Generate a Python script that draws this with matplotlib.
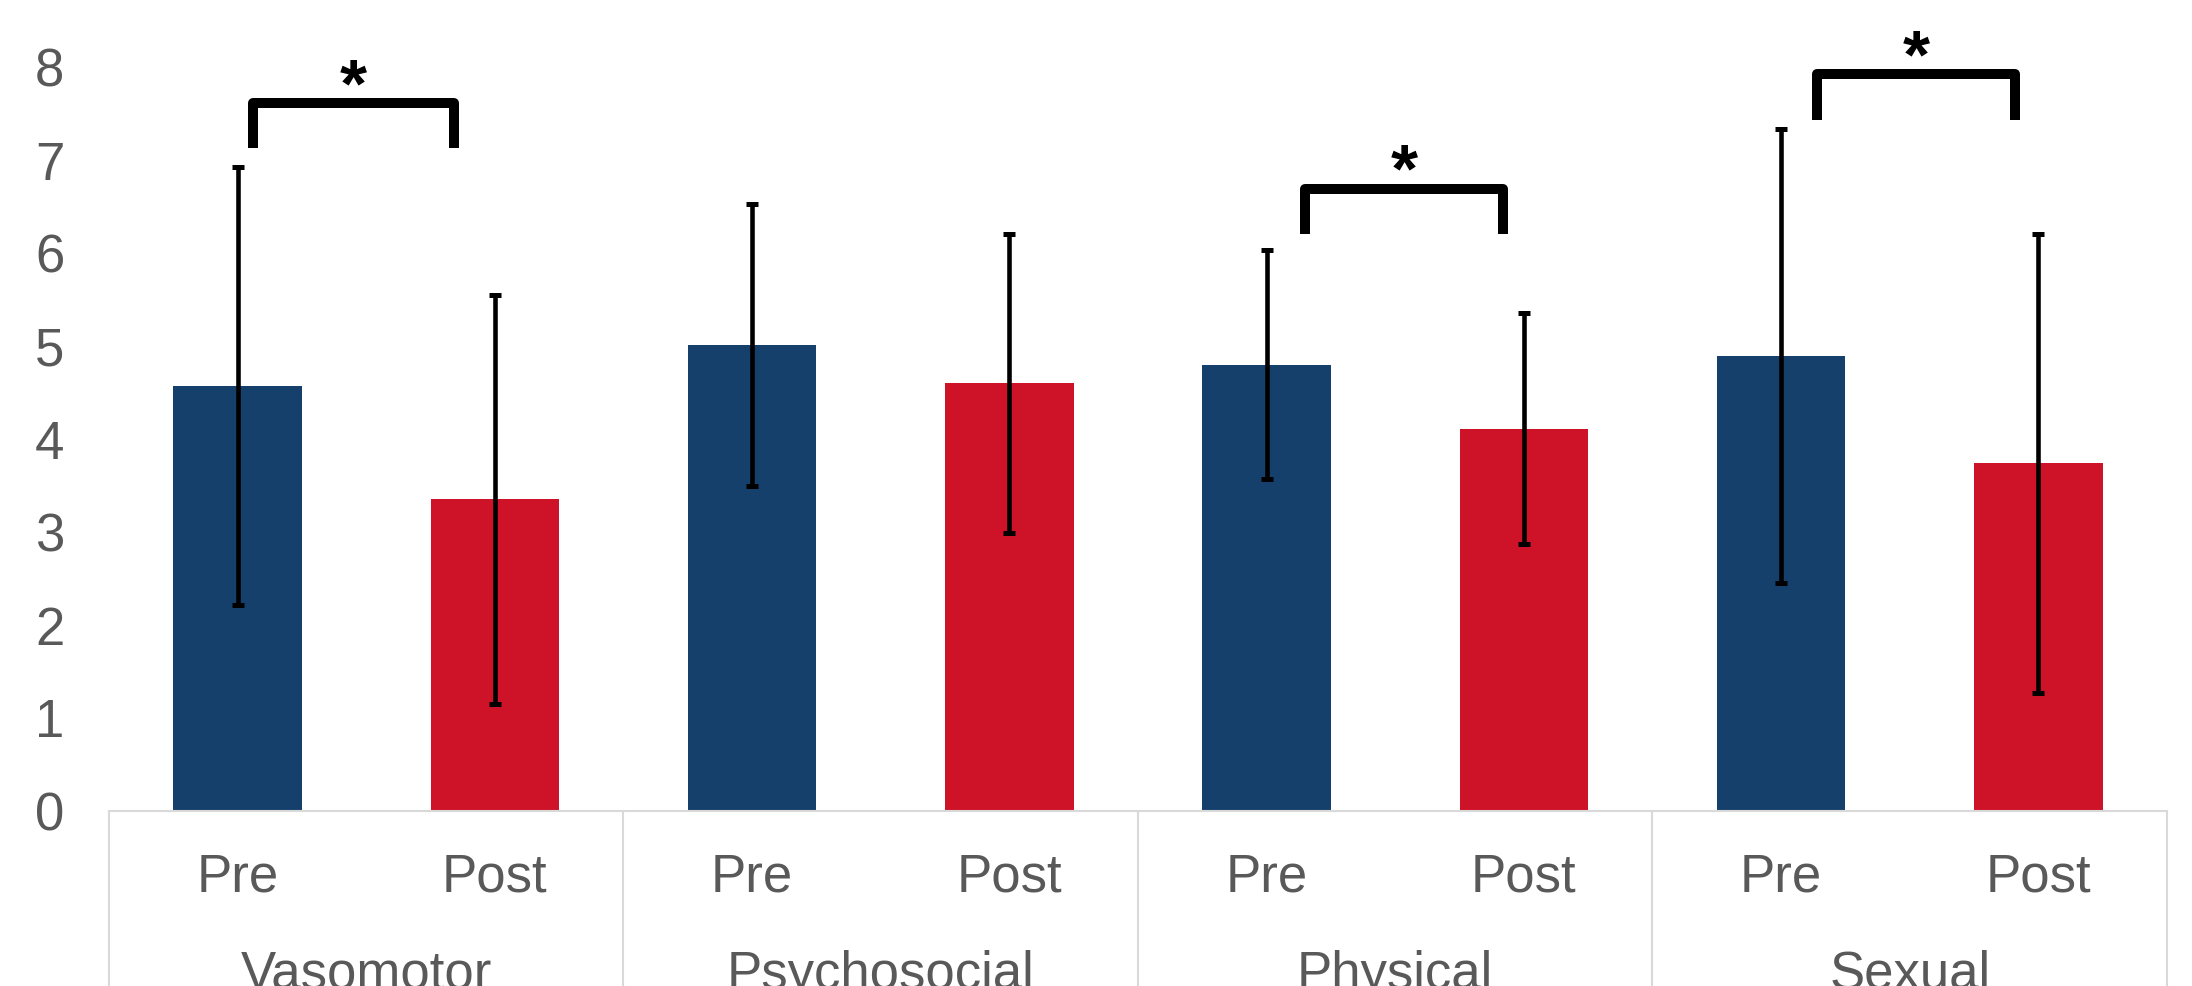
import numpy as np
import matplotlib.pyplot as plt

plt.rcParams['font.family'] = ['Liberation Sans', 'DejaVu Sans']

# ---- data ----
groups = ['Vasomotor', 'Psychosocial', 'Physical', 'Sexual']
phases = ['Pre', 'Post']
means = [4.57, 3.35, 5.01, 4.60, 4.80, 4.11, 4.89, 3.74]
sds = [2.36, 2.20, 1.52, 1.61, 1.23, 1.24, 2.44, 2.47]
# significance brackets: (left x, right x, leg bottom, bar top)
brackets = [(0.06, 0.84, 7.13, 7.61),
            (4.15, 4.92, 6.20, 6.69),
            (6.14, 6.91, 7.43, 7.92)]

navy = '#15406B'
red = '#CE1228'
grey = '#595959'
light = '#D9D9D9'

fig = plt.figure(figsize=(21.92, 9.86), dpi=100)
ax = fig.add_axes([0.0497, 0.1775, 0.9389, 0.7545])

x = np.arange(len(means))
colors = [navy if i % 2 == 0 else red for i in x]
ax.bar(x, means, width=0.5, color=colors, zorder=2)
ax.errorbar(x, means, yerr=sds, fmt='none', ecolor='black', elinewidth=3.3,
            capsize=4.3, capthick=3.6, zorder=3)

# brackets + stars
for x0, x1, yb, yt in brackets:
    ax.plot([x0, x0, x1, x1], [yb, yt, yt, yb], color='black', lw=7.2,
            solid_joinstyle='round', solid_capstyle='butt', clip_on=False, zorder=4)
    ax.text((x0 + x1) / 2, yt - 0.18, '*', ha='center', va='bottom',
            fontsize=50, fontweight='bold', color='black', clip_on=False)

ax.set_xlim(-0.5, 7.5)
ax.set_ylim(0, 8)
ax.set_yticks(range(0, 9))
ax.tick_params(axis='y', length=0, pad=32, labelsize=38, labelcolor=grey)

ax.set_xticks(x)
ax.set_xticklabels(phases * len(groups))
ax.tick_params(axis='x', length=0, pad=30, labelsize=38, labelcolor=grey)

for s in ['top', 'right', 'left']:
    ax.spines[s].set_visible(False)
ax.spines['bottom'].set_color(light)
ax.spines['bottom'].set_linewidth(1.5)

# category box lines below the axis
trans = ax.get_xaxis_transform()
for b in np.arange(-0.5, len(means), 2):
    ax.plot([b, b], [0, -0.3], color=light, lw=1.5, transform=trans, clip_on=False)

for i, g in enumerate(groups):
    ax.text(2 * i + 0.5, -0.22, g, transform=trans, ha='center', va='center',
            fontsize=38, color=grey)

fig.savefig('out.png', dpi=100)
